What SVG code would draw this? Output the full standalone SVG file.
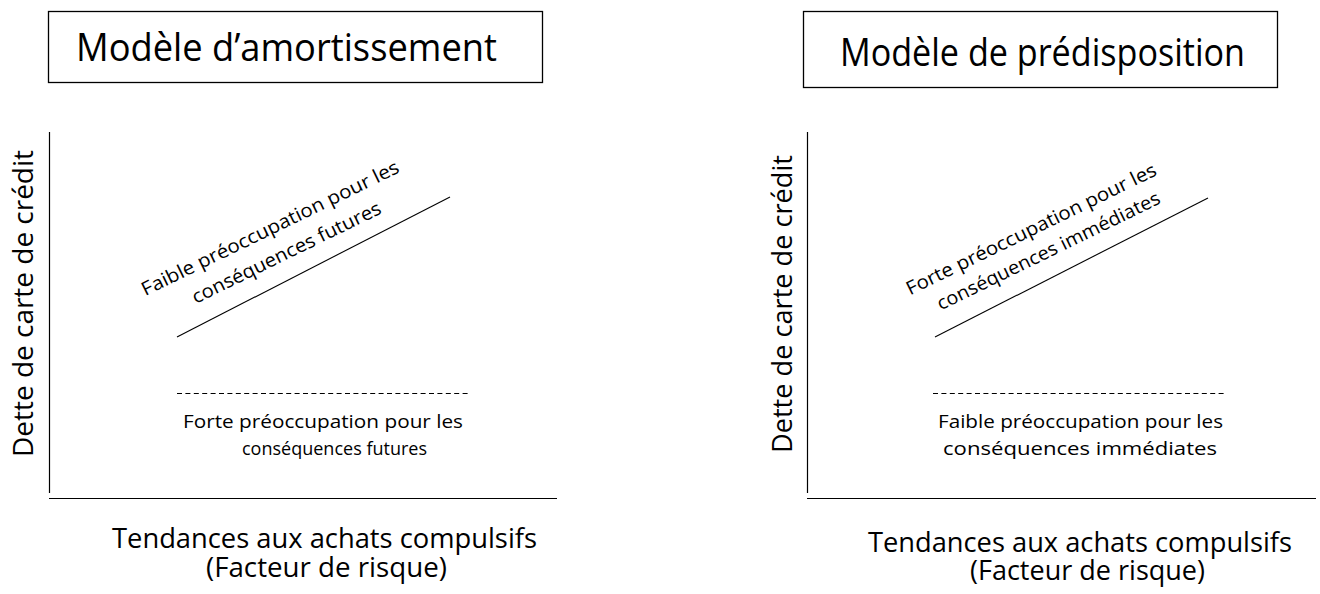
<svg xmlns="http://www.w3.org/2000/svg" width="1320" height="594" viewBox="0 0 1320 594">
  <style>
    text { font-family: "Open Sans", "Liberation Sans", sans-serif; fill: #000; }
    .title { font-size: 39px; }
    .axis-label { font-size: 26.5px; }
    .note { font-size: 19px; }
    .frame { fill: #fff; stroke: #000; stroke-width: 1.3; }
    .axis { stroke: #000; stroke-width: 1.2; fill: none; }
    .trend { stroke: #000; stroke-width: 1.1; fill: none; }
    .threshold { stroke: #000; stroke-width: 1; stroke-dasharray: 5 3.4; fill: none; }
  </style>
  <rect width="1320" height="594" fill="#fff"/>

  <!-- Left panel: buffering model -->
  <g id="title-amortissement">
    <rect class="frame" x="48.5" y="11.5" width="494" height="71"/>
    <text class="title" x="286.5" y="61" text-anchor="middle" textLength="421" lengthAdjust="spacingAndGlyphs">Modèle d’amortissement</text>
  </g>
  <g id="axes-left">
    <line class="axis" x1="49.5" y1="132" x2="49.5" y2="493"/>
    <line class="axis" x1="49" y1="498.5" x2="557" y2="498.5"/>
    <text class="axis-label" transform="translate(33,303.5) rotate(-90)" x="0" y="0" text-anchor="middle" textLength="307" lengthAdjust="spacingAndGlyphs">Dette de carte de crédit</text>
    <text class="axis-label" x="324.5" y="548" text-anchor="middle" textLength="425" lengthAdjust="spacingAndGlyphs">Tendances aux achats compulsifs</text>
    <text class="axis-label" x="326.5" y="577" text-anchor="middle" textLength="241" lengthAdjust="spacingAndGlyphs">(Facteur de risque)</text>
  </g>
  <g id="trend-left">
    <line class="trend" x1="177" y1="337" x2="450" y2="197"/>
    <g transform="translate(273,234) rotate(-26)">
      <text class="note" x="0" y="0" text-anchor="middle" textLength="284" lengthAdjust="spacingAndGlyphs">Faible préoccupation pour les</text>
      <text class="note" x="4" y="29" text-anchor="middle" textLength="208" lengthAdjust="spacingAndGlyphs">conséquences futures</text>
    </g>
  </g>
  <g id="threshold-left">
    <line class="threshold" x1="177" y1="393.5" x2="470" y2="393.5"/>
    <text class="note" x="323" y="428" text-anchor="middle" textLength="280" lengthAdjust="spacingAndGlyphs">Forte préoccupation pour les</text>
    <text class="note" x="334.5" y="455" text-anchor="middle" textLength="185" lengthAdjust="spacingAndGlyphs">conséquences futures</text>
  </g>

  <!-- Right panel: predisposition model -->
  <g id="title-predisposition">
    <rect class="frame" x="803.5" y="11.5" width="474" height="76"/>
    <text class="title" x="1042.5" y="66" text-anchor="middle" textLength="405" lengthAdjust="spacingAndGlyphs">Modèle de prédisposition</text>
  </g>
  <g id="axes-right">
    <line class="axis" x1="807.5" y1="132" x2="807.5" y2="493"/>
    <line class="axis" x1="807" y1="498.5" x2="1316" y2="498.5"/>
    <text class="axis-label" transform="translate(792,304) rotate(-90)" x="0" y="0" text-anchor="middle" textLength="298" lengthAdjust="spacingAndGlyphs">Dette de carte de crédit</text>
    <text class="axis-label" x="1080" y="552" text-anchor="middle" textLength="424" lengthAdjust="spacingAndGlyphs">Tendances aux achats compulsifs</text>
    <text class="axis-label" x="1087.5" y="580" text-anchor="middle" textLength="235" lengthAdjust="spacingAndGlyphs">(Facteur de risque)</text>
  </g>
  <g id="trend-right">
    <line class="trend" x1="935" y1="337" x2="1208" y2="198"/>
    <g transform="translate(1034,235) rotate(-26)">
      <text class="note" x="0" y="0" text-anchor="middle" textLength="276" lengthAdjust="spacingAndGlyphs">Forte préoccupation pour les</text>
      <text class="note" x="6" y="27" text-anchor="middle" textLength="246" lengthAdjust="spacingAndGlyphs">conséquences immédiates</text>
    </g>
  </g>
  <g id="threshold-right">
    <line class="threshold" x1="933" y1="393.5" x2="1225" y2="393.5"/>
    <text class="note" x="1080.5" y="428" text-anchor="middle" textLength="285" lengthAdjust="spacingAndGlyphs">Faible préoccupation pour les</text>
    <text class="note" x="1080" y="455" text-anchor="middle" textLength="274" lengthAdjust="spacingAndGlyphs">conséquences immédiates</text>
  </g>
</svg>
